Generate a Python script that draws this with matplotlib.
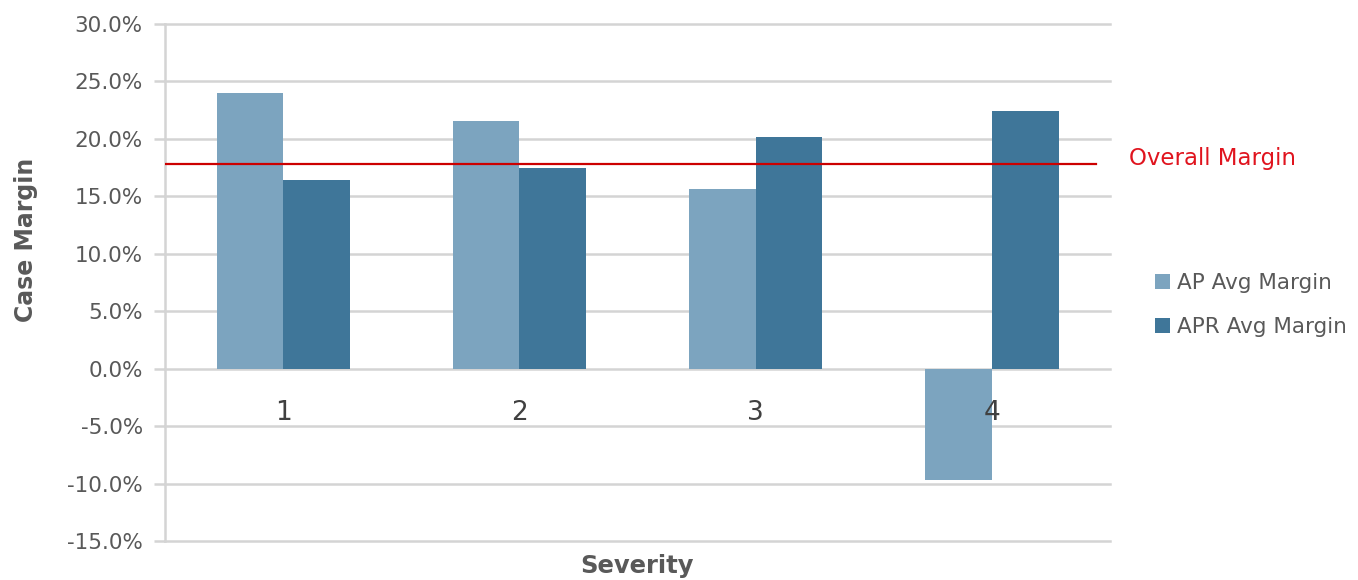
import matplotlib.pyplot as plt
import numpy as np

categories = ['1', '2', '3', '4']
ap_margin = [24.0, 21.6, 15.6, -9.7]
apr_margin = [16.4, 17.5, 20.2, 22.4]
overall_margin = 17.8
yticks = [-15, -10, -5, 0, 5, 10, 15, 20, 25, 30]

ap_color = '#7ca4bf'
apr_color = '#3f7699'
text_color = '#595959'
grid_color = '#d4d4d4'

fig = plt.figure(figsize=(13.58, 5.80), dpi=100)
ax = fig.add_axes([0.1215, 0.0672, 0.6959, 0.8914])

x = np.arange(len(categories))
w = 0.282
ax.bar(x - w / 2, ap_margin, width=w, color=ap_color, label='AP Avg Margin', zorder=3)
ax.bar(x + w / 2, apr_margin, width=w, color=apr_color, label='APR Avg Margin', zorder=3)

ax.set_xlim(-0.5, 3.5)
ax.set_ylim(-15, 30)
ax.set_yticks(yticks)
ax.set_yticklabels([f'{v:.1f}%' for v in yticks], fontsize=15.5, color=text_color)
ax.tick_params(axis='y', length=8, width=1.8, color=grid_color, pad=8)
for v in yticks:
    ax.axhline(v, color=grid_color, lw=1.8, zorder=0, clip_on=False)
ax.set_xticks([])
for s in ['top', 'right', 'bottom']:
    ax.spines[s].set_visible(False)
ax.spines['left'].set_color(grid_color)
ax.spines['left'].set_linewidth(1.8)

# category labels sit just below the zero line
for xi, lab in zip(x, categories):
    ax.text(xi, -3.9, lab, ha='center', va='center', fontsize=19, color='#404040', zorder=4)

# overall margin line
ax.plot([-0.5, 3.44], [overall_margin, overall_margin], color='#cc0000', lw=1.6, zorder=4)
ax.text(3.58, overall_margin + 0.5, 'Overall Margin', color='#e0141e', fontsize=16.5,
        va='center', ha='left', clip_on=False)

fig.text(0.469, 0.025, 'Severity', ha='center', va='center', fontsize=17.5,
         fontweight='bold', color=text_color)
fig.text(0.019, 0.586, 'Case Margin', ha='center', va='center', rotation=90,
         fontsize=17, fontweight='bold', color=text_color)

leg = ax.legend(loc='center left', bbox_to_anchor=(0.836, 0.474), bbox_transform=fig.transFigure,
                frameon=False, fontsize=15.5, handlelength=0.7, handleheight=0.7,
                handletextpad=0.35, labelspacing=1.15)
for t in leg.get_texts():
    t.set_color(text_color)

fig.savefig('out.png', dpi=100)
